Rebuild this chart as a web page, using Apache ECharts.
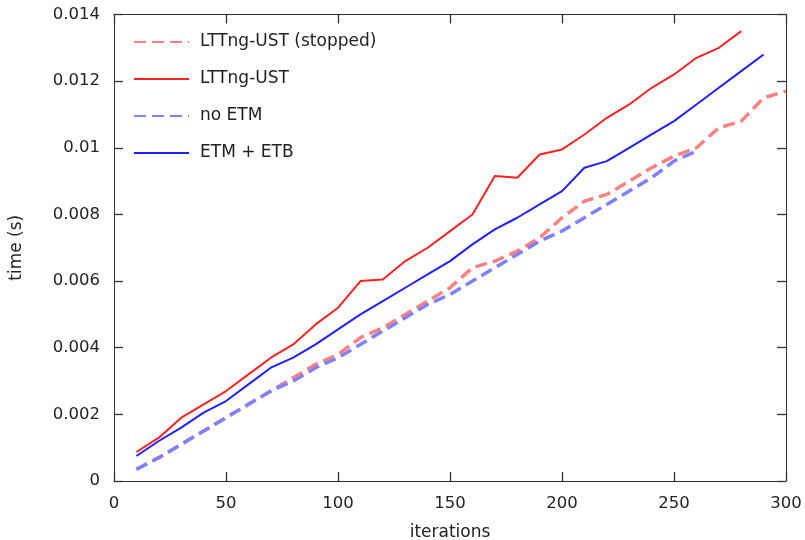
<!DOCTYPE html>
<html>
<head>
<meta charset="utf-8">
<script src="https://cdn.jsdelivr.net/npm/echarts@6/dist/echarts.min.js"></script>
<style>html,body{margin:0;padding:0;background:#fff}#c{width:805px;height:540px}</style>
</head>
<body>
<div id="c"></div>
<script>
var iterations = [10,20,30,40,50,60,70,80,90,100,110,120,130,140,150,160,170,180,190,200,210,220,230,240,250,260,270,280,290,300];
var lttngStopped = [0.00035,0.0007,0.0011,0.0015,0.0019,0.0023,0.0027,0.0031,0.0035,0.0038,0.0043,0.0046,0.0050,0.0054,0.0058,0.0064,0.0066,0.0069,0.0073,0.0079,0.0084,0.0086,0.0090,0.0094,0.00975,0.0100,0.0106,0.0108,0.0115,0.0117];
var lttng = [0.00087,0.0013,0.0019,0.0023,0.0027,0.0032,0.0037,0.0041,0.0047,0.0052,0.0060,0.00605,0.0066,0.0070,0.0075,0.0080,0.00915,0.0091,0.0098,0.00995,0.0104,0.0109,0.0113,0.0118,0.0122,0.0127,0.0130,0.0135];
var noEtm = [0.00035,0.0007,0.0011,0.0015,0.0019,0.0023,0.0027,0.0030,0.0034,0.0037,0.0041,0.0045,0.0049,0.0053,0.0056,0.0060,0.0064,0.0068,0.0072,0.0075,0.0079,0.0083,0.0087,0.0091,0.0096,0.0099];
var etmEtb = [0.00075,0.0012,0.0016,0.00205,0.0024,0.0029,0.0034,0.0037,0.0041,0.00455,0.0050,0.0054,0.0058,0.0062,0.0066,0.0071,0.00755,0.0079,0.0083,0.0087,0.0094,0.0096,0.0100,0.0104,0.0108,0.0113,0.0118,0.0123,0.0128];
var seriesNames = ['LTTng-UST (stopped)','LTTng-UST','no ETM','ETM + ETB'];

function pairs(vals){ return vals.map(function(v,i){ return [iterations[i], v]; }); }

var FONT = 'DejaVu Sans';
var TXT = '#222';
var AX = '#333';
function tickStyle(){ return {show:true, inside:true, length:9, lineStyle:{color:AX, width:1.3}}; }
function lineAx(){ return {show:true, onZero:false, lineStyle:{color:AX, width:1}}; }
var chart = echarts.init(document.getElementById('c'));
chart.setOption({
  animation:false,
  backgroundColor:'#fff',
  textStyle:{fontFamily:FONT},
  grid:{left:114, right:19, top:14.5, bottom:59, containLabel:false, outerBoundsMode:'none'},
  legend:{
    orient:'vertical', left:133, top:33.5, padding:0,
    itemWidth:55, itemHeight:18, itemGap:20,
    itemStyle:{color:'rgba(0,0,0,0)', borderWidth:0, opacity:0},
    textStyle:{fontFamily:FONT, fontSize:17, color:TXT, padding:[0,0,0,6]},
    data:seriesNames
  },
  xAxis:[{
    type:'value', min:0, max:300, interval:50, position:'bottom',
    name:'iterations', nameLocation:'middle', nameGap:43,
    nameTextStyle:{fontFamily:FONT, fontSize:17, color:TXT},
    axisLine:lineAx(), axisTick:tickStyle(),
    axisLabel:{fontFamily:FONT, fontSize:16.5, color:TXT, margin:14},
    splitLine:{show:false}
  },{
    type:'value', min:0, max:300, interval:50, position:'top',
    axisLine:lineAx(), axisTick:tickStyle(), axisLabel:{show:false}, splitLine:{show:false}
  }],
  yAxis:[{
    type:'value', min:0, max:0.014, interval:0.002, position:'left',
    name:'time (s)', nameLocation:'middle', nameGap:89, nameRotate:90,
    nameTextStyle:{fontFamily:FONT, fontSize:17, color:TXT},
    axisLine:lineAx(), axisTick:tickStyle(),
    axisLabel:{fontFamily:FONT, fontSize:16.5, color:TXT, margin:14},
    splitLine:{show:false}
  },{
    type:'value', min:0, max:0.014, interval:0.002, position:'right',
    axisLine:lineAx(), axisTick:tickStyle(), axisLabel:{show:false}, splitLine:{show:false}
  }],
  series:[
    {name:seriesNames[0], type:'line', data:pairs(lttngStopped), showSymbol:false, symbol:'none',
     color:'#ff8080', lineStyle:{width:3.5, type:[12,6], color:'#ff8080'}},
    {name:seriesNames[1], type:'line', data:pairs(lttng), showSymbol:false, symbol:'none',
     color:'#ff2020', lineStyle:{width:2, color:'#ff2020'}},
    {name:seriesNames[2], type:'line', data:pairs(noEtm), showSymbol:false, symbol:'none',
     color:'#8080ff', lineStyle:{width:3.5, type:[12,6], color:'#8080ff'}},
    {name:seriesNames[3], type:'line', data:pairs(etmEtb), showSymbol:false, symbol:'none',
     color:'#2020ff', lineStyle:{width:2, color:'#2020ff'}}
  ]
});
</script>
</body>
</html>
